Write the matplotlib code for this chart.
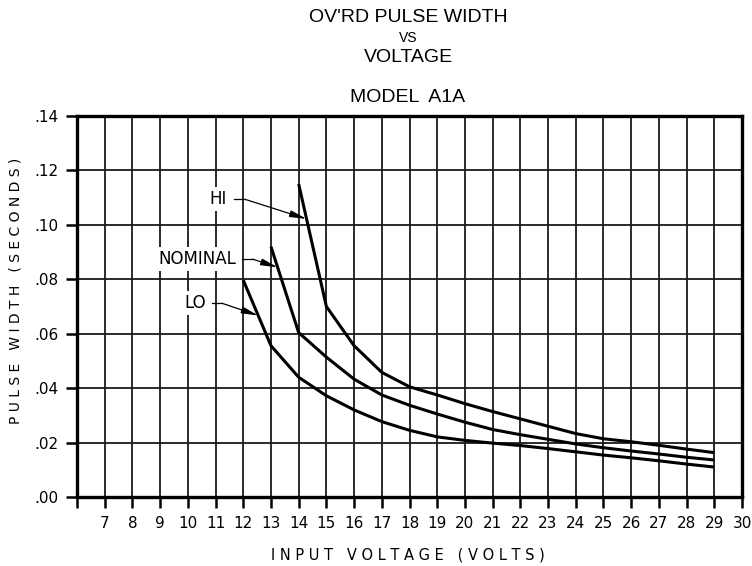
import numpy as np
import matplotlib
matplotlib.use("Agg")
from matplotlib import pyplot as plt

# pulse width (seconds) against input voltage for the three settings
volts_hi = [14, 15, 16, 17, 18, 19, 20, 21, 22, 23, 24, 25, 26, 27, 28, 29]
width_hi = [0.115, 0.070, 0.0556, 0.0458, 0.0405, 0.0375, 0.0343, 0.0314,
            0.0287, 0.0260, 0.0233, 0.0214, 0.0203, 0.0190, 0.0176, 0.0163]

volts_nom = [13, 14, 15, 16, 17, 18, 19, 20, 21, 22, 23, 24, 25, 26, 27, 28, 29]
width_nom = [0.092, 0.0604, 0.0514, 0.0433, 0.0375, 0.0337, 0.0305, 0.0275,
             0.0248, 0.0229, 0.0212, 0.0195, 0.0181, 0.0169, 0.0158, 0.0146, 0.0136]

volts_lo = [12, 13, 14, 15, 16, 17, 18, 19, 20, 21, 22, 23, 24, 25, 26, 27, 28, 29]
width_lo = [0.0797, 0.0556, 0.0440, 0.0372, 0.0320, 0.0277, 0.0245, 0.0221,
            0.0208, 0.0198, 0.0189, 0.0178, 0.0166, 0.0154, 0.0144, 0.0133, 0.0121, 0.0110]

x_ticks = list(range(6, 31))
x_labels = [''] + [str(v) for v in range(7, 31)]
y_ticks = [0.00, 0.02, 0.04, 0.06, 0.08, 0.10, 0.12, 0.14]
y_labels = ['.00', '.02', '.04', '.06', '.08', '.10', '.12', '.14']

W, H = 752, 566
fig = plt.figure(figsize=(W / 100, H / 100), dpi=100)
ax = fig.add_axes([77 / W, 1 - 497 / H, (742 - 77) / W, (497 - 116) / H])

ax.set_xlim(6, 30)
ax.set_ylim(0, 0.14)
ax.set_xticks(x_ticks)
ax.set_xticklabels(x_labels)
ax.set_yticks(y_ticks)
ax.set_yticklabels(y_labels)
ax.tick_params(axis='both', direction='out', length=8, width=1.8, labelsize=11,
               colors='black')
ax.tick_params(axis='x', pad=6)
ax.tick_params(axis='y', pad=5)
for lab in ax.get_xticklabels() + ax.get_yticklabels():
    lab.set_family('DejaVu Sans')

ax.grid(True, color='#1a1a1a', linewidth=1.3, zorder=0)
ax.set_axisbelow(True)
for sp in ax.spines.values():
    sp.set_linewidth(2.4)
    sp.set_zorder(5)

for xs, ys in [(volts_hi, width_hi), (volts_nom, width_nom), (volts_lo, width_lo)]:
    ax.plot(xs, ys, color='black', linewidth=2.2, solid_joinstyle='round',
            solid_capstyle='butt', zorder=3)

# curve labels with leader lines and arrows
labels = [
    ('HI', volts_hi, width_hi, 11.40, 0.1094, 11.66, 12.06, 14.285),
    ('NOMINAL', volts_nom, width_nom, 11.73, 0.0874, 11.94, 12.34, 13.24),
    ('LO', volts_lo, width_lo, 10.65, 0.0712, 10.87, 11.23, 12.54),
]
for name, xs, ys, tx, ty, l0, l1, ax_x in labels:
    ax.text(tx, ty, name, ha='right', va='center', fontsize=12,
            family='DejaVu Sans', zorder=4,
            bbox=dict(facecolor='white', edgecolor='none', pad=2))
    ax.plot([l0, l1], [ty, ty], color='black', linewidth=0.9, zorder=4)
    target = (ax_x, float(np.interp(ax_x, xs, ys)))
    ax.annotate('', xy=target, xytext=(l1, ty),
                arrowprops=dict(arrowstyle='-|>,head_length=1.0,head_width=0.2',
                                color='black', lw=0.9, shrinkA=0, shrinkB=0),
                zorder=4)

cx = 408 / W
fig.text(cx, 1 - 18 / H, "OV'RD PULSE WIDTH", ha='center', va='center',
         fontsize=14, family='Liberation Sans')
fig.text(cx, 1 - 38 / H, "VS", ha='center', va='center',
         fontsize=10, family='Liberation Sans')
fig.text(cx, 1 - 57 / H, "VOLTAGE", ha='center', va='center',
         fontsize=14, family='Liberation Sans')
fig.text(cx, 1 - 98 / H, "MODEL  A1A", ha='center', va='center',
         fontsize=14, family='Liberation Sans')

fig.text(cx, 1 - 555 / H, "I N P U T   V O L T A G E   ( V O L T S )",
         ha='center', va='center', fontsize=10.5, family='DejaVu Sans')
fig.text(16 / W, 1 - 291 / H, "P U L S E   W I D T H   ( S E C O N D S )",
         ha='center', va='center', rotation=90, fontsize=10, family='DejaVu Sans')

fig.savefig('out.png', dpi=100)
